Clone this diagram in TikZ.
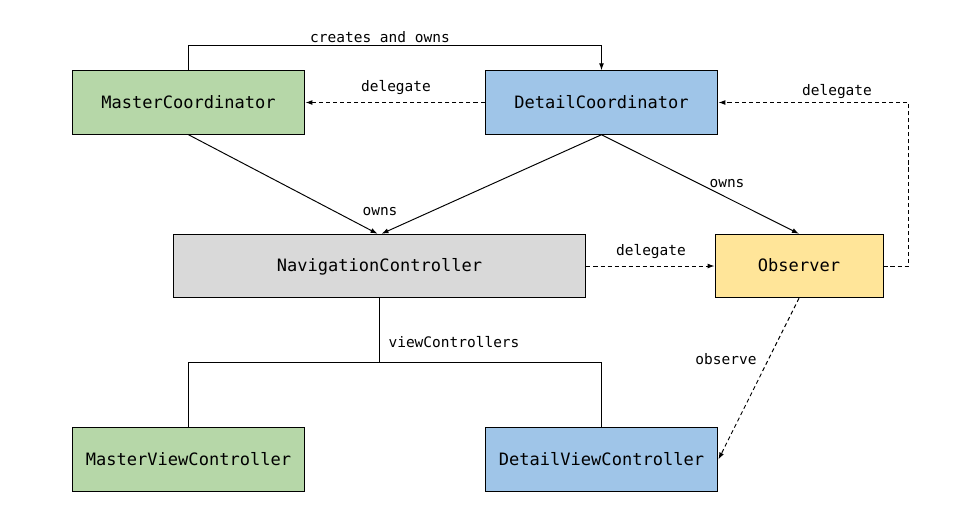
\documentclass[tikz,border=0pt]{standalone}
\usepackage{fontspec}
\setmonofont{DejaVu Sans Mono}
\usetikzlibrary{arrows.meta,positioning,calc}
\definecolor{mvGreen}{HTML}{B6D7A8}
\definecolor{mvBlue}{HTML}{9FC5E8}
\definecolor{mvGray}{HTML}{D9D9D9}
\definecolor{mvYellow}{HTML}{FFE599}
\tikzset{
  arr/.style={-{Latex[length=1.4mm,width=1.0mm]}, line width=0.55pt, draw=black},
  arrd/.style={arr, dash pattern=on 2.3pt off 1.7pt},
  link/.style={line width=0.55pt, draw=black},
  box/.style={draw=black, line width=0.55pt, align=center, minimum height=1.27cm, inner sep=2pt, text height=1.55ex, text depth=0pt, font=\ttfamily\fontsize{9.7}{11}\selectfont},
  greenbox/.style={box, fill=mvGreen, minimum width=4.66cm},
  bluebox/.style={box, fill=mvBlue, minimum width=4.66cm},
  graybox/.style={box, fill=mvGray, minimum width=8.26cm},
  yellowbox/.style={box, fill=mvYellow, minimum width=3.36cm},
  lbl/.style={font=\ttfamily\fontsize{8.25}{10}\selectfont, inner sep=1pt}
}
\begin{document}
\begin{tikzpicture}[x=0.02cm,y=-0.02cm]
  \useasboundingbox (0,0) rectangle (958,525);
  % boxes
  \node[greenbox] (mc) at (188.5,102.5) {MasterCoordinator};
  \node[bluebox] (dc) at (601.5,102.5) {DetailCoordinator};
  \node[graybox] (nav) at (379.5,266) {NavigationController};
  \node[yellowbox] (obs) at (799,266) {Observer};
  \node[greenbox] (mvc) at (188.5,459.5) {MasterViewController};
  \node[bluebox] (dvc) at (601.5,459.5) {DetailViewController};
  % coordinators
  \draw[arr] (mc.north) -- ++(0,-25) -| (dc.north);
  \node[lbl] (lcreates) at (380,37) {creates and owns};
  \draw[arrd] (dc.west) -- (mc.east);
  \node[lbl] (ldelmc) at (396,88) {delegate};
  \draw[arrd] (obs.east) -- ++(25,0) |- (dc.east);
  \node[lbl] (ldeldc) at (837,92) {delegate};
  % ownership
  \draw[arr] (mc.south) -- ($(nav.north)+(-2,0)$);
  \draw[arr] (dc.south) -- ($(nav.north)+(2,0)$);
  \node[lbl] (lownsnav) at (380,212) {owns};
  \draw[arr] (dc.south) -- (obs.north);
  \node[lbl] (lownsobs) at (727,184) {owns};
  \draw[arrd] (nav.east) -- (obs.west);
  \node[lbl] (ldelnav) at (651,252) {delegate};
  % view controllers
  \coordinate (vcsplit) at (379.5,362);
  \draw[link] (nav.south) -- (vcsplit);
  \draw[link] (vcsplit) -| (mvc.north);
  \draw[link] (vcsplit) -| (dvc.north);
  \node[lbl] (lvcs) at (454,342) {viewControllers};
  \draw[arrd] (obs.south) -- (dvc.east);
  \node[lbl] (lobserve) at (726,359) {observe};
\end{tikzpicture}
\end{document}
